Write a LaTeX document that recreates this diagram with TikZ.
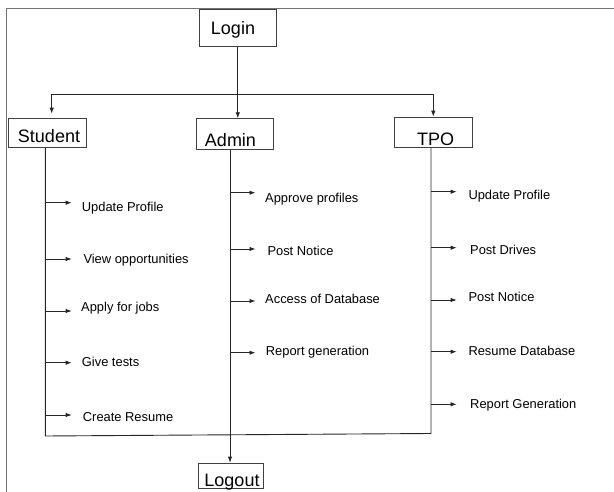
\documentclass[tikz,border=0pt]{standalone}
\usepackage{fontspec}
\setmainfont{Liberation Sans}
\usetikzlibrary{arrows.meta}
\begin{document}
\begin{tikzpicture}[x=1pt,y=-1pt,
  box/.style={draw=black!75, line width=0.9pt, inner sep=0pt, anchor=north west},
  big/.style={font=\fontsize{18}{18}\selectfont, inner sep=0pt, anchor=base},
  item/.style={font=\fontsize{12.9}{13}\selectfont, inner sep=0pt, anchor=west, text height=9.2pt, text depth=2.7pt},
  ln/.style={draw=black!85, line width=0.9pt},
  arr/.style={ln, -{Latex[length=6pt,width=4.5pt]}},
  frameline/.style={draw=black!55, line width=1.4pt}]
\useasboundingbox (0,0) rectangle (614,492);
% frame
\coordinate (fTL) at (6.7,8.3);
\coordinate (fTR) at (614,8.3);
\coordinate (fBL) at (6.7,492);
\draw[frameline] (fBL) -- (fTL) -- (fTR);
% boxes
\node[box, minimum width=77.3pt, minimum height=37.3pt] (login) at (198.7,9) {};
\node[box, minimum width=77.7pt, minimum height=29.6pt] (student) at (8.3,117.7) {};
\node[box, minimum width=77.6pt, minimum height=30.4pt] (admin) at (195.7,118.3) {};
\node[box, minimum width=77.7pt, minimum height=30.3pt] (tpo) at (394,116.7) {};
\node[box, minimum width=64.4pt, minimum height=25.6pt] (logout) at (198.3,462.7) {};
% labels
\node[big] (loginT) at (233,35) {Login};
\node[big] (studentT) at (49,142.7) {Student};
\node[big] (adminT) at (230.5,146.7) {Admin};
\node[big] (tpoT) at (435.7,145.7) {TPO};
\node[big] (logoutT) at (232,486) {Logout};
% top connectors
\draw[arr] (login.south) -- (login.south |- admin.north);
\coordinate (barL) at (51.7,94);
\coordinate (barR) at (433.3,94);
\draw[ln] (barL) -- (barR);
\draw[arr, shorten >=4pt] (barL) -- (barL |- student.north);
\draw[arr] (barR) -- (barR |- tpo.north);
% verticals
\coordinate (sEnd) at (45.3,436);
\coordinate (tEnd) at (431,433.5);
\draw[ln] (sEnd |- student.south) -- (sEnd) -- (tEnd) -- (tEnd |- tpo.south);
\coordinate (aX) at (230,300);
\draw[arr] (aX |- admin.south) -- (aX |- logout.north);
% items: name / vertical x / arrow y / arrow end x / text x / text y / text
\foreach \n/\vx/\ay/\ex/\tx/\ty/\txt in {
  s1/45.3/202.7/71.7/81.7/208.3/Update Profile,
  s2/45.3/259/71.7/83.3/260.7/View opportunities,
  s3/45.3/311/71.7/81/308.3/Apply for jobs,
  s4/45.3/362.7/71.7/81.7/363.3/Give tests,
  s5/45.3/415/71.7/82.7/418/Create Resume,
  a1/230/192.7/255.5/265/199/Approve profiles,
  a2/230/249/255.5/267.3/252/Post Notice,
  a3/230/301/255.5/265/300.3/Access of Database,
  a4/230/352.7/255.5/265.7/352.7/Report generation,
  t1/431/191.7/456.7/468.3/196.7/Update Profile,
  t2/431/247.7/456.7/470/251.3/Post Drives,
  t3/431/300/456.7/468.3/298/Post Notice,
  t4/431/351.7/456.7/468.3/352.3/Resume Database,
  t5/431/404.3/456.7/470/405/Report Generation}{
  \node[item] (\n) at (\tx,\ty) {\txt};
  \coordinate (b\n) at (\vx,\ay);
  \pgfmathsetmacro{\gap}{\tx-\ex}
  \draw[arr, shorten >=\gap pt] (b\n) -- (b\n -| \n.west);
}
\end{tikzpicture}
\end{document}
